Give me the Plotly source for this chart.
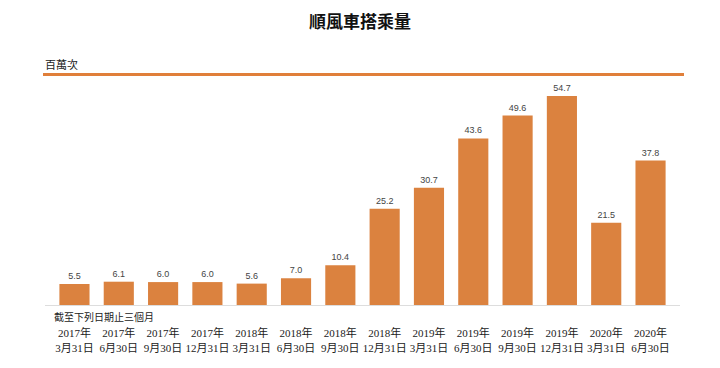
import plotly.graph_objects as go

categories = ["2017年<br>3月31日", "2017年<br>6月30日", "2017年<br>9月30日", "2017年<br>12月31日",
              "2018年<br>3月31日", "2018年<br>6月30日", "2018年<br>9月30日", "2018年<br>12月31日",
              "2019年<br>3月31日", "2019年<br>6月30日", "2019年<br>9月30日", "2019年<br>12月31日",
              "2020年<br>3月31日", "2020年<br>6月30日"]
values = [5.5, 6.1, 6.0, 6.0, 5.6, 7.0, 10.4, 25.2, 30.7, 43.6, 49.6, 54.7, 21.5, 37.8]
value_labels = [f"{v:.1f}" for v in values]

title_text = "順風車搭乘量"
unit_text = "百萬次"
period_text = "截至下列日期止三個月"

bar_color = "#DB823F"
serif = "Liberation Serif, Noto Sans CJK TC, serif"
cjk = "Noto Sans CJK TC, sans-serif"

fig = go.Figure(go.Bar(
    x=list(range(len(categories))), y=values,
    marker=dict(color=bar_color, line=dict(width=0)),
    text=value_labels, textposition="outside", cliponaxis=False,
    textfont=dict(family="Liberation Sans, Arial, sans-serif", size=9, color="#444444"),
    width=0.68,
))

fig.update_layout(
    width=720, height=368,
    margin=dict(l=45, r=40, t=80, b=63),
    plot_bgcolor="white", paper_bgcolor="white",
    showlegend=False,
    title=dict(text=f"<b>{title_text}</b>", x=0.5, xanchor="center", y=1 - 22/368, yanchor="middle",
               font=dict(family=cjk, size=17, color="#111111")),
    xaxis=dict(
        tickmode="array", tickvals=list(range(len(categories))), ticktext=categories,
        range=[-0.665, 13.665], showgrid=False, zeroline=False,
        showline=True, linecolor="#dddddd", linewidth=1, ticks="",
        tickfont=dict(family=serif, size=11, color="#222222"),
        ticklabelstandoff=18,
    ),
    yaxis=dict(range=[0, 58.9], visible=False, showgrid=False, zeroline=False),
    shapes=[dict(type="line", xref="paper", yref="paper", x0=(43-45)/635, x1=(684-45)/635,
                 y0=(305-74.5)/225, y1=(305-74.5)/225, line=dict(color="#E07F3A", width=3))],
    annotations=[
        dict(text=unit_text, xref="paper", yref="paper", x=(43-45)/635, y=(305-64)/225,
             xanchor="left", yanchor="middle", showarrow=False,
             font=dict(family=cjk, size=11, color="#222222")),
        dict(text=period_text, xref="paper", yref="paper", x=(52-45)/635, y=(305-316.5)/225,
             xanchor="left", yanchor="middle", showarrow=False,
             font=dict(family=cjk, size=10, color="#222222")),
    ],
)

fig.write_html("out.html", config={"displayModeBar": False},
               post_script="document.body.style.margin='0';")
